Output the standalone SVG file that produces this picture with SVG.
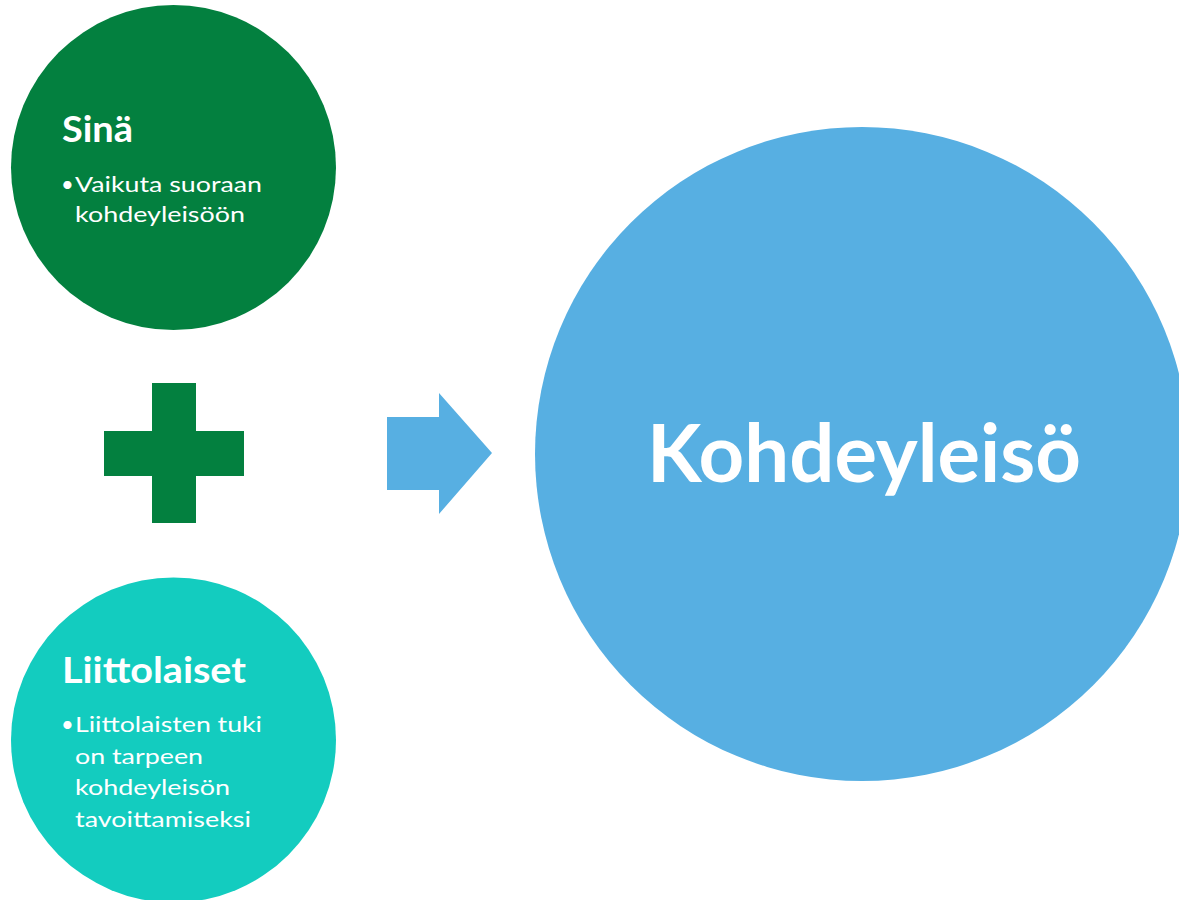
<svg xmlns="http://www.w3.org/2000/svg" width="1179" height="900" viewBox="0 0 1179 900">
<style>
text{font-family:Lato,"Open Sans","Liberation Sans",sans-serif;fill:#fff}
.t{font-weight:bold;font-size:37px}
.b{font-size:22px}
.big{font-weight:bold;font-size:80px}
</style>
<rect width="1179" height="900" fill="#fff"/>
<g id="node-target">
<circle cx="862" cy="454" r="327" fill="#57AFE2"/>
<text class="big" x="647" y="482" textLength="434" lengthAdjust="spacingAndGlyphs">Kohdeyleisö</text>
</g>
<g id="node-sina">
<circle cx="173.5" cy="167.5" r="162.5" fill="#03803F"/>
<text class="t" x="62" y="142" textLength="71" lengthAdjust="spacingAndGlyphs">Sinä</text>
<text class="b" x="61" y="192">•</text>
<text class="b" x="75" y="192" textLength="187" lengthAdjust="spacingAndGlyphs">Vaikuta suoraan</text>
<text class="b" x="75" y="222" textLength="170" lengthAdjust="spacingAndGlyphs">kohdeyleisöön</text>
</g>
<g id="node-liittolaiset">
<circle cx="173.5" cy="740" r="162.5" fill="#13CCBF"/>
<text class="t" x="62" y="683" textLength="184" lengthAdjust="spacingAndGlyphs">Liittolaiset</text>
<text class="b" x="61" y="732">•</text>
<text class="b" x="75" y="732" textLength="187" lengthAdjust="spacingAndGlyphs">Liittolaisten tuki</text>
<text class="b" x="75" y="764" textLength="128" lengthAdjust="spacingAndGlyphs">on tarpeen</text>
<text class="b" x="75" y="795" textLength="155" lengthAdjust="spacingAndGlyphs">kohdeyleisön</text>
<text class="b" x="75" y="827" textLength="176" lengthAdjust="spacingAndGlyphs">tavoittamiseksi</text>
</g>
<g id="plus">
<polygon points="152,383 196,383 196,431 244,431 244,476 196,476 196,523 152,523 152,476 104,476 104,431 152,431" fill="#03803F"/>
</g>
<g id="connectors">
<polygon points="387,417 439,417 439,393 492,453 439,514 439,490 387,490" fill="#57AFE2"/>
</g>
</svg>
